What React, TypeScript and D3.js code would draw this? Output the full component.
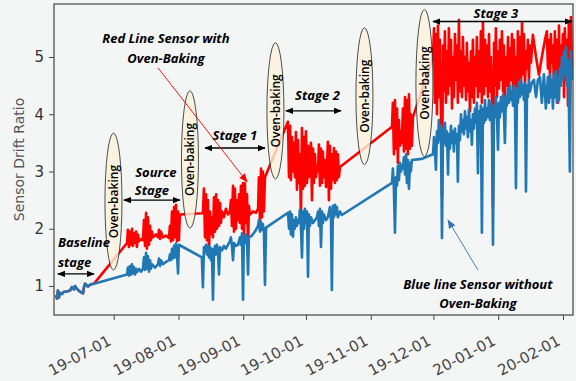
import React, { useEffect, useRef } from "react";
import * as d3 from "d3";

// readings are stored as [days after 2019-06-01, drift ratio]
const START = new Date(2019, 5, 1);

// both sensors share the baseline stage
const baseline: [number, number][] = [
  [2.4, 0.84], [2.9, 0.78], [3.3, 0.92], [3.8, 0.8], [4.3, 0.88], [5.3, 0.86], [6.2, 0.9], [7.2, 0.9],
  [9.1, 0.92], [10, 0.98], [11, 0.94], [11.5, 1.0], [12.4, 0.95], [13.9, 0.9], [15.3, 0.87], [15.8, 0.98],
  [16.3, 1.04], [17.7, 0.99], [19.1, 1.03], [20.6, 1.04],
];

const redSensor: [number, number][] = [
  // source stage
  [36.4, 1.75], [36.8, 1.98], [37.3, 1.68], [37.8, 1.95], [38.3, 1.72], [38.8, 2.0], [39.2, 1.7], [39.7, 1.92],
  [40.2, 1.75], [40.7, 1.95], [41.1, 1.68], [41.6, 1.9], [42.1, 1.78], [43.1, 1.82], [44, 1.8], [44.5, 2.15],
  [45, 1.7], [45.5, 2.28], [45.9, 1.65], [46.4, 2.2], [46.9, 1.72], [47.4, 2.05], [47.8, 1.8], [48.3, 1.95],
  [48.8, 1.85], [50.2, 1.9], [51.2, 1.85], [51.7, 1.98], [52.2, 1.82], [52.6, 1.95], [53.6, 1.85], [55, 1.88],
  [56.5, 1.84], [56.9, 2.05], [57.4, 1.78], [57.9, 2.3], [58.4, 1.8], [58.9, 2.38], [59.3, 1.85], [59.8, 2.42],
  [60.3, 1.78], [60.8, 2.3], [61.2, 1.8], [61.7, 2.25], [72.7, 2.27],
  // stage 1
  [73.2, 2.7], [73.7, 1.85], [74.2, 2.6], [74.6, 1.8], [75.1, 2.5], [75.6, 1.6], [76.1, 2.3], [76.6, 1.9],
  [77, 2.2], [77.5, 1.85], [78, 2.55], [78.5, 1.95], [79, 2.6], [79.4, 2.0], [79.9, 2.5], [80.4, 2.05],
  [80.9, 2.45], [81.3, 2.1], [81.8, 2.3], [82.8, 2.2], [83.7, 2.35], [84.7, 2.25], [85.6, 2.3], [86.1, 2.5],
  [86.6, 2.05], [87.1, 2.75], [87.6, 1.95], [88, 2.7], [88.5, 2.0], [89, 2.5], [89.5, 2.15], [90, 2.6],
  [90.4, 2.1], [90.9, 2.75], [91.4, 2.0], [91.9, 2.8], [92.3, 1.85], [92.8, 2.8], [93.3, 2.1], [93.8, 2.6],
  [94.3, 1.7], [94.7, 2.4], [95.2, 2.25], [96.7, 2.3], [98.1, 2.28], [99.1, 2.35], [99.5, 2.9], [100, 2.15],
  [100.5, 3.05], [101, 2.2], [101.4, 3.0], [101.9, 2.3], [102.4, 2.9],
  // stage 2
  [113.4, 3.87], [113.9, 2.9], [114.4, 3.8], [114.8, 2.85], [115.3, 3.6], [115.8, 3.0], [116.3, 3.5], [116.7, 2.9],
  [117.2, 3.69], [117.7, 2.68], [118.2, 3.55], [118.7, 2.8], [119.1, 3.3], [119.6, 2.2], [120.1, 3.76], [120.6, 2.7],
  [121.1, 3.6], [121.5, 2.75], [122, 3.7], [122.5, 2.8], [123, 3.45], [123.4, 2.9], [123.9, 3.2], [124.4, 3.5],
  [124.9, 2.5], [125.4, 3.4], [125.8, 2.8], [126.3, 3.3], [126.8, 2.9], [127.3, 3.1], [127.8, 3.0], [128.2, 3.47],
  [128.7, 2.75], [129.2, 3.4], [129.7, 2.8], [130.1, 3.35], [130.6, 2.9], [131.1, 3.2], [131.6, 2.73], [132.1, 3.1],
  [132.5, 3.52], [133, 2.5], [133.5, 3.45], [134, 2.7], [134.4, 3.3], [134.9, 2.85], [135.4, 3.41], [135.9, 2.8],
  [136.4, 3.35], [136.8, 2.85], [137.3, 3.3], [137.8, 2.9], [138.3, 3.08],
  // before stage 3
  [163.2, 3.78], [163.6, 4.2], [164.1, 3.3], [164.6, 4.25], [165.1, 3.4], [165.6, 4.1], [166, 3.15], [166.5, 3.9],
  [167, 3.45], [167.5, 3.7], [167.9, 3.5], [168.4, 4.1], [168.9, 3.35], [169.4, 4.3], [169.9, 3.4], [170.3, 4.25],
  [170.8, 3.3], [171.3, 4.35], [171.8, 3.4], [172.2, 4.0], [172.7, 3.45], [173.2, 3.95],
  // stage 3
  [182.8, 5.0], [183.3, 5.5], [183.7, 4.2], [184.2, 5.4], [184.7, 4.0], [185.2, 5.55], [185.6, 4.3], [186.1, 5.3],
  [186.6, 4.1], [187.1, 2.56], [187.6, 5.2], [188, 4.4], [188.5, 5.45], [189, 4.2], [189.5, 5.1], [190, 4.35],
  [190.4, 5.5], [190.9, 4.5], [191.4, 5.3], [191.9, 4.1], [192.3, 5.0], [192.8, 4.3], [193.3, 5.4], [193.8, 4.6],
  [194.3, 5.2], [194.7, 4.2], [195.2, 5.65], [195.7, 4.4], [196.2, 5.1], [196.7, 4.3], [197.1, 5.35], [197.6, 4.5],
  [198.1, 5.0], [198.6, 4.25], [199, 5.25], [199.5, 4.4], [200, 4.9], [200.5, 4.05], [201, 5.1], [201.4, 4.3],
  [201.9, 5.3], [202.4, 4.2], [202.9, 5.0], [203.3, 4.5], [203.8, 5.35], [204.3, 4.3], [204.8, 5.1], [205.3, 4.4],
  [205.7, 5.45], [206.2, 4.2], [206.7, 5.6], [207.2, 4.35], [207.7, 5.3], [208.1, 4.5], [208.6, 5.2], [209.1, 4.3],
  [209.6, 5.4], [210, 4.4], [210.5, 5.0], [211, 4.25], [211.5, 2.38], [212, 5.25], [212.4, 4.5], [212.9, 5.5],
  [213.4, 4.3], [213.9, 5.1], [214.4, 4.45], [214.8, 5.3], [215.3, 4.6], [215.8, 5.45], [216.3, 4.4], [216.7, 5.2],
  [217.2, 4.3], [217.7, 5.0], [218.2, 4.5], [218.7, 5.35], [219.1, 4.4], [219.6, 5.15], [220.1, 4.6], [220.6, 5.4],
  [221.1, 4.35], [221.5, 5.3], [222, 4.5], [222.5, 5.0], [223, 4.2], [223.4, 5.45], [223.9, 4.6], [224.4, 5.35],
  [224.9, 4.45], [225.4, 5.6], [225.8, 4.7], [226.3, 5.4], [226.8, 4.5], [227.3, 5.1], [227.8, 4.8], [228.2, 5.3],
  [228.7, 4.6], [229.2, 5.2], [229.7, 4.9], [230.6, 5.39], [232.1, 5.0], [233.5, 4.69], [234.9, 5.0], [236.4, 5.3],
  [237.3, 5.45], [237.8, 4.8], [238.3, 5.3], [238.8, 4.6], [239.2, 5.4], [239.7, 4.9], [240.2, 5.2], [240.7, 4.4],
  [241.1, 5.45], [241.6, 4.7], [242.1, 5.3], [242.6, 4.2], [243.1, 5.55], [243.5, 4.5], [244, 5.2], [244.5, 4.8],
  [245, 5.4], [245.5, 4.3], [245.9, 5.5], [246.4, 4.6], [246.9, 5.3], [247.4, 4.15], [247.8, 5.6], [248.3, 4.5],
  [248.8, 5.7], [249.3, 4.8],
];

const blueSensor: [number, number][] = [
  // source stage
  [36.4, 1.2], [36.8, 1.32], [37.3, 1.18], [37.8, 1.35], [38.3, 1.2], [38.8, 1.38], [39.2, 1.22], [39.7, 1.33],
  [40.2, 1.2], [40.7, 1.3], [41.1, 1.24], [42.1, 1.3], [43.1, 1.25], [44, 1.3], [44.5, 1.5], [45, 1.28],
  [45.5, 1.58], [45.9, 1.3], [46.4, 1.52], [46.9, 1.25], [47.4, 1.45], [47.8, 1.3], [48.3, 1.38], [49.8, 1.32],
  [51.2, 1.38], [51.7, 1.48], [52.2, 1.35], [52.6, 1.45], [53.6, 1.38], [55, 1.42], [56.5, 1.45], [56.9, 1.55],
  [57.4, 1.45], [57.9, 1.65], [58.4, 1.48], [58.9, 1.7], [59.3, 1.5], [59.8, 1.74], [60.3, 1.55], [60.8, 1.22],
  [61.2, 1.72], [72.2, 1.5],
  // stage 1
  [72.7, 0.98], [73.2, 1.68], [73.7, 1.6], [74.2, 1.72], [74.6, 1.55], [75.1, 1.7], [75.6, 1.5], [76.1, 1.68],
  [76.6, 1.45], [77, 1.65], [77.5, 0.76], [78, 1.6], [78.5, 1.7], [79, 1.55], [79.4, 1.72], [79.9, 1.6],
  [80.4, 1.2], [80.9, 1.68], [81.8, 1.62], [82.8, 1.7], [83.7, 1.65], [84.7, 1.72], [85.6, 1.78], [86.1, 1.85],
  [86.6, 1.7], [87.1, 1.45], [87.6, 1.75], [88.5, 1.7], [89.5, 1.72], [90.4, 1.85], [90.9, 1.72], [91.4, 1.92],
  [91.9, 0.76], [92.3, 1.88], [92.8, 1.75], [93.3, 1.9], [93.8, 1.8], [94.3, 1.2], [94.7, 1.85], [96.2, 1.88],
  [97.6, 1.95], [99.1, 2.05], [99.5, 2.15], [100, 1.95], [100.5, 2.12], [101, 1.98], [101.4, 2.08], [101.9, 1.95],
  [102.4, 1.02], [102.9, 2.02],
  // stage 2
  [113.4, 2.28], [113.9, 2.0], [114.4, 2.3], [114.8, 1.9], [115.3, 2.25], [115.8, 1.86], [116.3, 2.15], [116.7, 2.0],
  [117.2, 2.2], [117.7, 2.05], [118.2, 2.15], [118.7, 2.1], [119.1, 2.33], [119.6, 2.05], [120.1, 1.5], [120.6, 2.3],
  [121.1, 2.0], [121.5, 2.35], [122, 2.1], [122.5, 2.3], [123, 1.16], [123.4, 2.25], [123.9, 2.05], [124.4, 2.2],
  [125.4, 2.1], [126.3, 2.15], [127.3, 2.2], [127.8, 2.3], [128.2, 2.05], [128.7, 2.35], [129.2, 1.68], [129.7, 2.3],
  [130.1, 2.1], [130.6, 2.25], [131.6, 2.15], [132.5, 2.2], [133.5, 2.38], [134, 2.15], [134.4, 0.93], [134.9, 2.4],
  [135.4, 2.2], [135.9, 2.42], [136.4, 2.25], [136.8, 2.38], [137.3, 2.2], [138.3, 2.3], [139.2, 2.24],
  // before stage 3
  [163.2, 2.8], [163.6, 3.05], [164.1, 2.7], [164.6, 1.93], [165.1, 2.9], [165.6, 2.75], [166, 3.1], [166.5, 2.85],
  [167, 3.15], [167.5, 3.0], [167.9, 3.1], [168.4, 3.05], [168.9, 3.25], [169.4, 2.95], [169.9, 3.3], [170.3, 2.8],
  [170.8, 3.2], [171.3, 2.7], [171.8, 3.15], [172.2, 3.0], [172.7, 3.2], [177.5, 3.22],
  // stage 3
  [182.8, 3.3], [183.3, 3.6], [183.7, 3.4], [184.2, 3.03], [184.7, 3.7], [185.2, 3.5], [185.6, 3.9], [186.1, 3.55],
  [186.6, 3.8], [187.1, 1.84], [187.6, 3.75], [188, 3.5], [188.5, 3.85], [189, 3.45], [189.5, 3.7], [190, 2.95],
  [190.4, 3.65], [190.9, 3.4], [191.4, 3.8], [191.9, 3.5], [192.3, 3.7], [192.8, 3.35], [193.3, 3.75], [193.8, 3.5],
  [194.3, 3.65], [194.7, 2.82], [195.2, 3.8], [195.7, 3.55], [196.2, 4.0], [196.7, 3.7], [197.1, 3.9], [197.6, 3.65],
  [198.1, 4.05], [198.6, 3.75], [199, 3.95], [199.5, 3.6], [200, 4.08], [200.5, 3.7], [201, 3.9], [201.4, 3.47],
  [201.9, 4.0], [202.4, 3.75], [202.9, 4.1], [203.3, 3.85], [203.8, 4.2], [204.3, 2.97], [204.8, 4.05], [205.3, 3.8],
  [205.7, 4.15], [206.2, 1.93], [206.7, 4.1], [207.2, 3.85], [207.7, 4.25], [208.1, 3.9], [208.6, 4.1], [209.1, 3.95],
  [209.6, 4.25], [210, 3.9], [210.5, 4.2], [211, 4.0], [211.5, 1.72], [212, 4.15], [212.4, 3.95], [212.9, 4.3],
  [213.4, 4.0], [213.9, 3.38], [214.4, 4.2], [214.8, 3.95], [215.3, 4.3], [215.8, 4.05], [216.3, 4.35], [216.7, 4.1],
  [217.2, 3.5], [217.7, 4.3], [218.2, 4.15], [218.7, 4.45], [219.1, 4.2], [219.6, 4.5], [220.1, 4.25], [220.6, 4.4],
  [221.1, 4.15], [221.5, 4.5], [222, 4.3], [222.5, 2.71], [223, 4.45], [223.4, 4.2], [223.9, 4.55], [224.4, 4.3],
  [224.9, 4.6], [225.4, 4.35], [225.8, 4.5], [226.3, 4.25], [226.8, 4.55], [227.3, 2.65], [227.8, 4.5], [228.2, 4.3],
  [228.7, 4.6], [229.2, 4.4], [230.1, 4.55], [231.1, 4.6], [232.1, 4.3], [233, 4.6], [234, 4.65], [234.9, 4.2],
  [235.9, 4.7], [236.8, 4.1], [237.8, 4.65], [238.3, 4.2], [238.8, 4.7], [239.2, 4.3], [239.7, 4.6], [240.2, 4.1],
  [240.7, 4.7], [241.1, 4.3], [241.6, 4.75], [242.1, 4.2], [242.6, 4.65], [243.1, 4.25], [243.5, 4.8], [244, 4.5],
  [244.5, 5.0], [245, 4.6], [245.5, 5.1], [245.9, 4.7], [246.4, 5.18], [246.9, 4.5], [247.4, 4.95], [247.8, 4.3],
  [248.3, 3.0], [248.8, 5.1], [249.3, 4.6],
];

const yTicks = [1, 2, 3, 4, 5];

// oven-baking periods: centre day and the value range the ellipse covers
const ovenBaking = [
  { day: 29.9, top: 3.67, bottom: 1.28 },
  { day: 66.5, top: 4.41, bottom: 2.01 },
  { day: 107.4, top: 5.25, bottom: 2.87 },
  { day: 150, top: 5.51, bottom: 3.12 },
  { day: 178.7, top: 5.83, bottom: 3.26 },
];

// stage spans: [from day, to day, at value]
const stageSpans: [number, number, number][] = [
  [3.3, 20.6, 1.21],
  [34.9, 61.7, 2.5],
  [73.7, 102.4, 3.41],
  [112.4, 138.8, 4.06],
  [182.8, 249.3, 5.62],
];

const App = () => {
  const svgRef = useRef<SVGSVGElement>(null);

  useEffect(() => {
    const width = 576;
    const height = 381;
    const margin = { left: 54, top: 4, right: 3, bottom: 66 };

    const svg = d3.select(svgRef.current);
    svg.selectAll("*").remove();
    svg.attr("width", width).attr("height", height);

    const day = (d: number) => new Date(START.getTime() + d * 864e5);

    const x = d3.scaleTime()
      .domain([day(1.44), day(249.8)])
      .range([margin.left, width - margin.right]);
    const y = d3.scaleLinear()
      .domain([0.493, 5.926])
      .range([height - margin.bottom, margin.top]);

    svg.append("rect").attr("width", width).attr("height", height).attr("fill", "#f4f5f5");

    const defs = svg.append("defs");
    const marker = (id: string, color: string, size: number) => {
      defs.append("marker")
        .attr("id", id)
        .attr("viewBox", "0 0 10 10")
        .attr("refX", 9).attr("refY", 5)
        .attr("markerWidth", size).attr("markerHeight", size)
        .attr("markerUnits", "userSpaceOnUse")
        .attr("orient", "auto-start-reverse")
        .append("path")
        .attr("d", "M0,1 L10,5 L0,9 Z")
        .attr("fill", color);
    };
    marker("headBlack", "#000", 8);
    marker("headRed", "#ff0000", 9);
    marker("headBlue", "#2e75b6", 9);

    // lines
    const line = d3.line<[number, number]>()
      .x(d => x(day(d[0])))
      .y(d => y(d[1]));

    svg.append("path")
      .datum([...baseline, ...redSensor])
      .attr("d", line)
      .attr("fill", "none")
      .attr("stroke", "#ff0000")
      .attr("stroke-width", 2.6)
      .attr("stroke-linejoin", "round");

    svg.append("path")
      .datum([...baseline, ...blueSensor])
      .attr("d", line)
      .attr("fill", "none")
      .attr("stroke", "#1f77b4")
      .attr("stroke-width", 2.6)
      .attr("stroke-linejoin", "round");

    // axes
    const yAxis = svg.append("g")
      .attr("transform", `translate(${margin.left},0)`)
      .call(d3.axisLeft(y).tickValues(yTicks).tickSize(5).tickPadding(5).tickFormat(d3.format("d")));
    yAxis.select(".domain").remove();
    yAxis.selectAll("line").attr("stroke", "#444");
    yAxis.selectAll("text")
      .attr("font-family", "DejaVu Sans")
      .attr("font-size", 15)
      .attr("fill", "#333");

    const xAxis = svg.append("g")
      .attr("transform", `translate(0,${height - margin.bottom})`)
      .call(d3.axisBottom(x)
        .ticks(d3.timeMonth.every(1))
        .tickSize(5)
        .tickFormat(d => d3.timeFormat("%y-%m-%d")(d as Date)));
    xAxis.select(".domain").remove();
    xAxis.selectAll("line").attr("stroke", "#444");
    xAxis.selectAll("text")
      .attr("font-family", "DejaVu Sans")
      .attr("font-size", 15)
      .attr("fill", "#444")
      .attr("text-anchor", "end")
      .attr("dy", null)
      .attr("y", null)
      .attr("transform", "translate(-2,29) rotate(-28)");

    svg.append("rect")
      .attr("x", margin.left).attr("y", margin.top)
      .attr("width", width - margin.left - margin.right)
      .attr("height", height - margin.top - margin.bottom)
      .attr("fill", "none")
      .attr("stroke", "#444")
      .attr("stroke-width", 1.2);

    svg.append("text")
      .attr("transform", `translate(24,${(margin.top + height - margin.bottom) / 2}) rotate(-90)`)
      .attr("text-anchor", "middle")
      .attr("font-family", "DejaVu Sans")
      .attr("font-size", 14)
      .attr("fill", "#555")
      .text("Sensor Drift Ratio");

    // oven-baking ellipses
    ovenBaking.forEach(o => {
      const cx = x(day(o.day));
      const cy = (y(o.top) + y(o.bottom)) / 2;
      svg.append("ellipse")
        .attr("cx", cx).attr("cy", cy)
        .attr("rx", 8.5).attr("ry", (y(o.bottom) - y(o.top)) / 2)
        .attr("fill", "#fcf3dc")
        .attr("fill-opacity", 0.8)
        .attr("stroke", "#222")
        .attr("stroke-width", 0.8);
      svg.append("text")
        .attr("transform", `translate(${cx + 4.5},${cy}) rotate(-90)`)
        .attr("text-anchor", "middle")
        .attr("font-family", "Open Sans")
        .attr("font-size", 12)
        .attr("font-weight", 600)
        .attr("fill", "#000")
        .text("Oven-baking");
    });

    // stage arrows
    stageSpans.forEach(([a, b, v]) => {
      svg.append("line")
        .attr("x1", x(day(a))).attr("x2", x(day(b)))
        .attr("y1", y(v)).attr("y2", y(v))
        .attr("stroke", "#000")
        .attr("stroke-width", 1.3)
        .attr("marker-start", "url(#headBlack)")
        .attr("marker-end", "url(#headBlack)");
    });

    const label = (text: string, d: number, v: number, anchor = "middle") => {
      svg.append("text")
        .attr("x", x(day(d))).attr("y", y(v))
        .attr("text-anchor", anchor)
        .attr("font-family", "Open Sans")
        .attr("font-size", 13)
        .attr("font-weight", "bold")
        .attr("font-style", "italic")
        .attr("fill", "#000")
        .text(text);
    };
    label("Baseline", 3.3, 1.68, "start");
    label("stage", 3.3, 1.33, "start");
    label("Source", 50.2, 2.9);
    label("Stage", 48.3, 2.59);
    label("Stage 1", 88, 3.55);
    label("Stage 2", 127.5, 4.25);
    label("Stage 3", 212.9, 5.69);
    label("Red Line Sensor with", 55, 5.25);
    label("Oven-Baking", 55, 4.9);
    label("Blue line Sensor without", 204.3, 0.95);
    label("Oven-Baking", 204.3, 0.62);

    // pointers to the two lines
    svg.append("line")
      .attr("x1", x(day(51.2))).attr("y1", y(4.81))
      .attr("x2", x(day(93.8))).attr("y2", y(2.82))
      .attr("stroke", "#ff0000")
      .attr("stroke-width", 0.9)
      .attr("marker-end", "url(#headRed)");
    svg.append("line")
      .attr("x1", x(day(204.3))).attr("y1", y(1.28))
      .attr("x2", x(day(190))).attr("y2", y(2.15))
      .attr("stroke", "#2e75b6")
      .attr("stroke-width", 0.9)
      .attr("marker-end", "url(#headBlue)");
  }, []);

  return (
    <svg ref={svgRef} style={{ position: "absolute", left: 0, top: 0, display: "block" }}></svg>
  );
};

export default App;
